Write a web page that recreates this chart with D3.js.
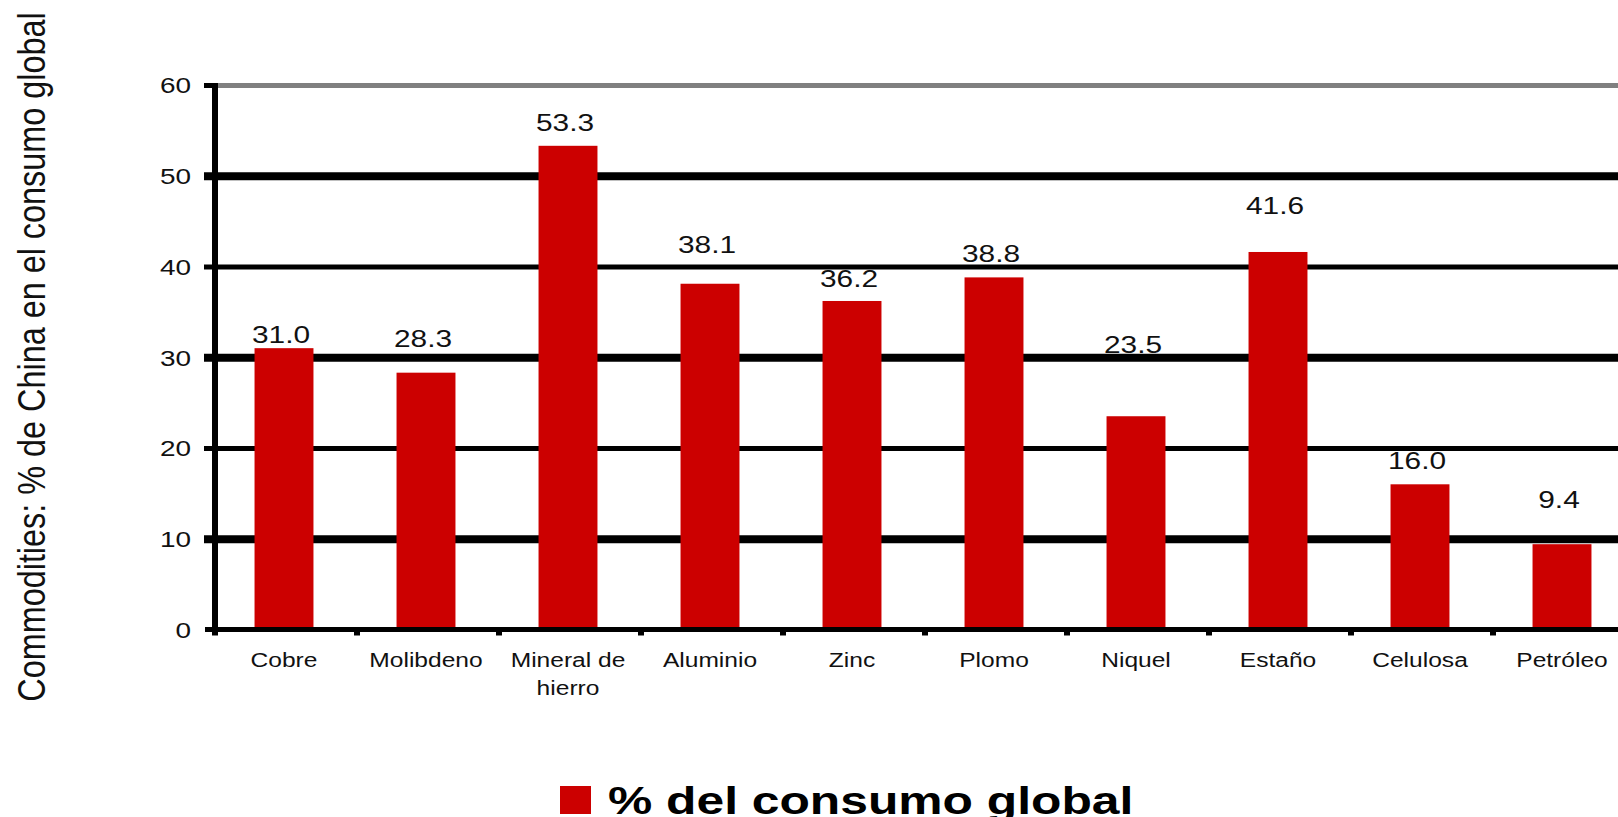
<!DOCTYPE html>
<html>
<head>
<meta charset="utf-8">
<title>Commodities China</title>
<script src="https://cdn.jsdelivr.net/npm/d3@7"></script>
<style>
	body{margin:0;background:#fff;}
	text{font-family:"Liberation Sans", Arial, sans-serif;}
</style>
</head>
<body>
<div id="graph"></div>
<script>
(function(){
"use strict";

// data
var categories = ["Cobre", "Molibdeno", "Mineral de hierro", "Aluminio", "Zinc", "Plomo", "Niquel", "Estaño", "Celulosa", "Petróleo"];
var consumo = [31.0, 28.3, 53.3, 38.1, 36.2, 38.8, 23.5, 41.6, 16.0, 9.4];
var yTicks = [0, 10, 20, 30, 40, 50, 60];
var seriesName = "% del consumo global";
var yTitle = "Commodities: % de China en el consumo global";

// label lift above bar top (px), labels in the original sit at odd heights
var labelGap = [5, 26, 15, 31, 14, 15, 63, 38, 15, 36];

var width = 1618;
var height = 817;
var left = 213;
var right = 1633; //last category runs past the window edge
var top = 85;
var bottom = 629.5;
var red = "#CC0000";
var sx = 1.27; //the picture is stretched sideways

var svg = d3.select('#graph')
	.append('svg')
		.attr('width', width)
		.attr('height', height)
		.style('display', 'block');

svg.append('rect')
	.attr('width', width)
	.attr('height', height)
	.attr('fill', '#fff');

var x = d3.scaleBand()
	.domain(categories)
	.range([left, right]);

var y = d3.scaleLinear()
	.domain([0, 60])
	.range([bottom, top]);

var barWidth = x.bandwidth() * 0.415;

// value labels first, gridlines run over them like in the original
svg.selectAll('.val')
	.data(consumo)
	.enter()
	.append('text')
		.attr('class', 'val')
		.attr('text-anchor', 'middle')
		.attr('transform', function(d, i){
			var cx = x(categories[i]) + x.bandwidth() / 2 - 3;
			return 'translate(' + cx + ',' + (y(d) - labelGap[i]) + ') scale(' + sx + ',1)';
		})
		.style('font-size', '23.5px')
		.attr('fill', '#111')
		.text(function(d){
			return d3.format('.1f')(d);
		});

// y axis + gridlines
var yAxis = d3.axisLeft(y)
	.tickValues(yTicks)
	.tickSize(-(width - left))
	.tickPadding(0);

var gy = svg.append('g')
	.attr('class', 'y')
	.attr('transform', 'translate(' + left + ',0)')
	.call(yAxis);

gy.select('.domain').remove();

gy.selectAll('.tick line')
	.attr('x1', -9)
	.attr('stroke', function(d){
		return d === 60 ? '#808080' : '#000';
	})
	.attr('stroke-width', function(d){
		if (d === 0) return 0;
		return (d % 20 === 10) ? 8 : 5;
	});

// black stub for the 60 tick
gy.selectAll('.tick')
	.filter(function(d){ return d === 60; })
	.append('line')
		.attr('x1', -9)
		.attr('x2', 3)
		.attr('stroke', '#000')
		.attr('stroke-width', 5);

gy.selectAll('.tick text')
	.attr('x', -22 / sx)
	.attr('dy', '0.36em')
	.attr('transform', 'scale(' + sx + ',1)')
	.style('font-size', '22px')
	.attr('fill', '#111');

// bars
svg.selectAll('.bar')
	.data(consumo)
	.enter()
	.append('rect')
		.attr('class', 'bar')
		.attr('x', function(d, i){
			return x(categories[i]) + x.bandwidth() / 2 - barWidth / 2;
		})
		.attr('width', barWidth)
		.attr('y', function(d){
			return y(d);
		})
		.attr('height', function(d){
			return bottom - y(d);
		})
		.attr('fill', red);

// y axis line
svg.append('line')
	.attr('x1', left + 2)
	.attr('x2', left + 2)
	.attr('y1', top - 2)
	.attr('y2', bottom + 3)
	.attr('stroke', '#000')
	.attr('stroke-width', 6);

// x axis
var xAxis = d3.axisBottom(x)
	.tickSize(0)
	.tickPadding(0);

var gx = svg.append('g')
	.attr('class', 'x')
	.attr('transform', 'translate(0,' + bottom + ')')
	.call(xAxis);

gx.select('.domain').remove();

gx.append('line')
	.attr('x1', left - 8)
	.attr('x2', width)
	.attr('stroke', '#000')
	.attr('stroke-width', 5);

// small marks at category boundaries
gx.selectAll('.sep')
	.data(categories)
	.enter()
	.append('line')
		.attr('class', 'sep')
		.attr('x1', function(d){ return x(d) + 2; })
		.attr('x2', function(d){ return x(d) + 2; })
		.attr('y1', 0)
		.attr('y2', 6)
		.attr('stroke', '#000')
		.attr('stroke-width', 6);

gx.selectAll('.tick text')
	.attr('y', 0)
	.attr('dy', 0)
	.attr('transform', 'scale(1.17,1)')
	.style('font-size', '21px')
	.attr('fill', '#111')
	.each(function(d){
		var t = d3.select(this);
		var words = d.split(' ');
		t.text(null);
		if (words.length > 2) {
			t.append('tspan').attr('x', 0).attr('y', 38).text(words.slice(0, -1).join(' '));
			t.append('tspan').attr('x', 0).attr('y', 66).text(words[words.length - 1]);
		} else {
			t.append('tspan').attr('x', 0).attr('y', 38).text(d);
		}
	});

// y title
svg.append('text')
	.attr('transform', 'translate(45,357) rotate(-90) scale(1,1.2)')
	.attr('text-anchor', 'middle')
	.style('font-size', '32.4px')
	.attr('fill', '#111')
	.text(yTitle);

// legend, cut at the bottom edge as in the original
var legend = svg.append('g')
	.attr('class', 'legend');

legend.append('rect')
	.attr('x', 560)
	.attr('y', 786)
	.attr('width', 31)
	.attr('height', 28)
	.attr('fill', red);

legend.append('text')
	.attr('transform', 'translate(608,814) scale(1.31,1)')
	.style('font-size', '38px')
	.style('font-weight', 'bold')
	.attr('fill', '#000')
	.text(seriesName);

})();
</script>
</body>
</html>
